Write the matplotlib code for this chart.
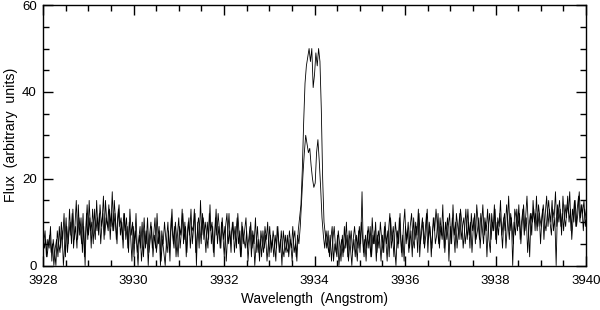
import numpy as np
import matplotlib
matplotlib.use('Agg')
import matplotlib.pyplot as plt
from matplotlib.ticker import MultipleLocator

plt.rcParams['font.family'] = ['Liberation Sans', 'DejaVu Sans']

# two exposures, 0.03 A steps; the second is shifted by half a step
wave_step = 0.03
wave_start_a = 3928.0
wave_start_b = 3928.015

flux_a = [
    7, 4, 6, 2, 5, 7, 3, 5, 0, 4,
    6, 2, 9, 4, 8, 0, 5, 11, 3, 7,
    10, 5, 13, 6, 9, 4, 14, 7, 11, 3,
    9, 0, 12, 6, 15, 8, 10, 5, 13, 8,
    11, 7, 14, 9, 12, 6, 15, 10, 8, 13,
    9, 17, 8, 12, 6, 11, 14, 7, 10, 4,
    12, 6, 9, 3, 13, 7, 10, 2, 8, 5,
    0, 7, 4, 10, 2, 8, 5, 11, 3, 6,
    9, 2, 7, 4, 12, 5, 8, 1, 6, 3,
    0, 6, 10, 3, 8, 13, 5, 9, 2, 7,
    11, 4, 8, 12, 6, 9, 3, 10, 7, 13,
    5, 9, 12, 0, 10, 4, 15, 7, 11, 8,
    3, 10, 6, 14, 5, 9, 2, 11, 7, 12,
    8, 4, 11, 6, 9, 1, 7, 12, 5, 8,
    10, 3, 7, 11, 5, 8, 2, 9, 6, 4,
    8, 1, 6, 10, 4, 7, 0, 5, 9, 3,
    6, 2, 8, 4, 7, 1, 5, 9, 3, 6,
    2, 7, 4, 9, 3, 6, 0, 8, 5, 3,
    7, 2, 6, 4, 9, 3, 5, 1, 8, 11,
    14, 22, 33, 42, 46, 48, 50, 47, 50, 41,
    44, 49, 46, 50, 47, 36, 20, 10, 7, 4,
    8, 2, 6, 9, 1, 5, 3, 7, 0, 4,
    6, 2, 9, 4, 7, 1, 5, 8, 3, 6,
    2, 7, 4, 9, 5, 17, 3, 6, 1, 8,
    4, 9, 2, 7, 5, 10, 3, 8, 6, 1,
    7, 3, 10, 5, 8, 2, 11, 6, 9, 4,
    0, 8, 5, 12, 3, 7, 1, 9, 6, 10,
    4, 8, 2, 11, 6, 9, 3, 12, 5, 8,
    10, 4, 7, 13, 6, 9, 2, 8, 11, 5,
    7, 12, 4, 9, 6, 10, 3, 8, 11, 1,
    9, 5, 14, 7, 10, 4, 8, 12, 6, 9,
    11, 5, 8, 13, 7, 10, 3, 9, 12, 6,
    8, 11, 4, 9, 14, 7, 10, 2, 9, 12,
    6, 10, 8, 13, 5, 11, 9, 15, 7, 10,
    12, 4, 9, 16, 8, 11, 0, 10, 7, 13,
    9, 12, 5, 10, 14, 8, 11, 3, 9, 12,
    7, 15, 10, 12, 8, 14, 11, 9, 13, 6,
    12, 16, 9, 13, 10, 15, 8, 11, 0, 14,
    10, 13, 7, 16, 11, 9, 14, 12, 17, 8,
    13, 10, 15, 9, 12, 17, 11, 14, 8, 13,
    11,
]

flux_b = [
    5, 8, 2, 6, 4, 9, 1, 6, 3, 0,
    8, 5, 3, 10, 6, 12, 2, 9, 5, 13,
    7, 12, 4, 9, 15, 6, 11, 8, 5, 12,
    2, 8, 14, 7, 11, 4, 13, 9, 6, 15,
    8, 12, 5, 10, 16, 7, 11, 9, 14, 6,
    12, 8, 15, 10, 5, 13, 9, 11, 6, 12,
    8, 11, 4, 10, 7, 1, 9, 5, 12, 3,
    6, 9, 1, 5, 11, 4, 8, 0, 7, 10,
    4, 7, 11, 3, 6, 9, 0, 8, 5, 10,
    6, 3, 8, 1, 11, 7, 4, 10, 6, 2,
    9, 7, 13, 5, 10, 2, 8, 11, 4, 9,
    8, 13, 3, 7, 11, 9, 5, 12, 6, 10,
    7, 4, 12, 8, 10, 3, 7, 13, 5, 9,
    4, 10, 7, 2, 9, 12, 5, 8, 3, 10,
    6, 9, 4, 12, 7, 2, 10, 5, 8, 11,
    4, 6, 9, 2, 8, 5, 11, 3, 6, 1,
    8, 5, 3, 9, 6, 10, 2, 7, 4, 8,
    5, 1, 9, 6, 3, 8, 4, 2, 7, 4,
    3, 8, 5, 1, 6, 8, 2, 7, 5, 9,
    15, 21, 26, 30, 28, 26, 27, 23, 20, 18,
    19, 26, 29, 24, 18, 11, 7, 4, 8, 5,
    3, 7, 1, 6, 9, 4, 2, 8, 5, 1,
    7, 3, 5, 10, 2, 8, 4, 0, 6, 9,
    5, 1, 8, 3, 10, 6, 2, 7, 4, 9,
    6, 2, 11, 5, 8, 1, 7, 4, 10, 6,
    3, 9, 6, 1, 8, 12, 4, 7, 2, 10,
    7, 4, 11, 6, 2, 9, 13, 5, 8, 3,
    9, 12, 6, 4, 10, 7, 13, 2, 8, 11,
    5, 8, 12, 3, 10, 7, 4, 11, 8, 13,
    9, 5, 11, 7, 14, 4, 10, 6, 9, 12,
    5, 11, 8, 3, 12, 9, 6, 13, 10, 4,
    8, 13, 6, 10, 4, 12, 8, 11, 5, 14,
    10, 6, 12, 9, 5, 11, 8, 13, 6, 3,
    12, 8, 14, 6, 10, 7, 12, 9, 4, 11,
    8, 14, 10, 6, 12, 9, 5, 13, 11, 8,
    14, 6, 10, 13, 7, 11, 16, 9, 2, 12,
    10, 13, 8, 16, 9, 12, 5, 11, 14, 10,
    8, 12, 15, 10, 7, 13, 11, 17, 9, 12,
    15, 9, 12, 8, 14, 11, 16, 10, 13, 6,
    11, 15, 9, 13, 16, 10, 14, 12, 15, 9,
    12,
]

wave_a = wave_start_a + wave_step * np.arange(len(flux_a))
wave_b = wave_start_b + wave_step * np.arange(len(flux_b))

fig = plt.figure(figsize=(6, 3.1), dpi=100)
ax = fig.add_axes([0.0717, 0.1435, 0.905, 0.84])

ax.plot(wave_a, flux_a, color='black', linewidth=0.6)
ax.plot(wave_b, flux_b, color='black', linewidth=0.6)

ax.set_xlim(3928, 3940)
ax.set_ylim(0, 60)
ax.xaxis.set_major_locator(MultipleLocator(2))
ax.xaxis.set_minor_locator(MultipleLocator(0.5))
ax.yaxis.set_major_locator(MultipleLocator(20))
ax.yaxis.set_minor_locator(MultipleLocator(5))
ax.tick_params(which='both', direction='in', top=True, right=True, labelsize=9.5, width=1)
ax.tick_params(which='major', length=7)
ax.tick_params(which='minor', length=4)
ax.tick_params(axis='x', pad=6.5)
ax.tick_params(axis='y', pad=4.5)
for s in ax.spines.values():
    s.set_linewidth(1)

ax.set_xlabel('Wavelength  (Angstrom)', fontsize=9.8, labelpad=4)
ax.set_ylabel('Flux  (arbitrary  units)', fontsize=10.2, labelpad=3)

fig.savefig('out.png', dpi=100)
